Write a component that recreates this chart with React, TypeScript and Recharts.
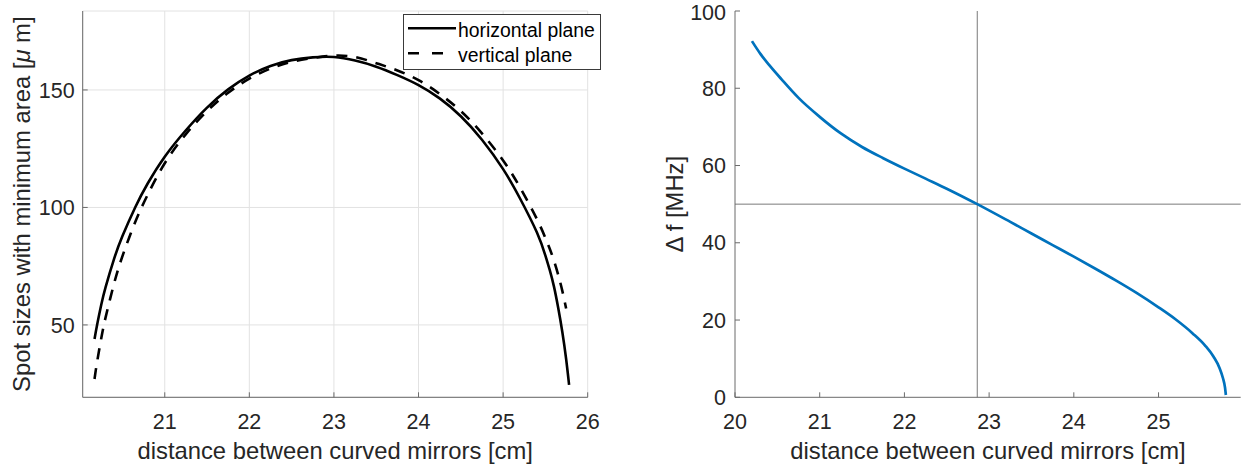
import { CartesianGrid, Legend, Line, LineChart, ReferenceLine, XAxis, YAxis } from 'recharts'

const FONT = '"Liberation Sans", Arial, Helvetica, sans-serif'
const AXIS = '#6b6b6b'
const TEXT = '#262626'

// left panel: spot size vs mirror distance
const spotX = [
  20.17, 20.2, 20.25, 20.3, 20.4, 20.5, 20.65, 20.8, 21.0, 21.25, 21.5, 21.75, 22.0, 22.25, 22.5, 22.75, 23.0,
  23.25, 23.5, 23.75, 24.0, 24.25, 24.5, 24.75, 25.0, 25.2, 25.4, 25.5, 25.55, 25.6, 25.65, 25.7, 25.745, 25.78,
]
const horizontalPlane = [
  44, 50, 58.7, 66, 78, 87.8, 100, 110.3, 121.6, 132.85, 142.5, 150.25, 156.1, 160.2, 162.7, 163.85, 164, 162.5,
  159.9, 156.3, 152.05, 146.4, 138.8, 128.8, 116.3, 103.8, 89.3, 79.5, 73.5, 66.5, 57.5, 47, 35.5, 24.5,
]
const verticalPlane = [
  27, 34.2, 44.4, 53.1, 67.5, 79.3, 93.7, 105.55, 118.8, 131.2, 141, 148.8, 154.8, 159.1, 162, 163.6, 164.6, 164,
  161.4, 158.3, 154.2, 148.3, 141, 131.5, 120, 108.5, 95, 87, 82.5, 77.5, 71.5, 64.5, 57, null,
]
const spotTicksX = [21, 22, 23, 24, 25, 26]
const spotTicksY = [50, 100, 150]

// right panel: frequency shift vs mirror distance
const shiftX = [
  20.2, 20.3, 20.4, 20.55, 20.75, 21.0, 21.25, 21.5, 21.75, 22.0, 22.25, 22.5, 22.86, 23.25, 23.5, 23.75, 24.0,
  24.25, 24.5, 24.75, 25.0, 25.2, 25.4, 25.55, 25.65, 25.72, 25.76, 25.785, 25.795,
]
const deltaF = [
  92.2, 88.9, 86.1, 82.3, 77.5, 72.6, 68.3, 64.8, 61.9, 59.2, 56.6, 54.0, 50.0, 45.4, 42.4, 39.4, 36.4, 33.35,
  30.2, 26.9, 23.3, 20.2, 16.6, 13.4, 10.5, 7.6, 5.0, 2.5, 0.6,
]
const shiftTicksX = [20, 21, 22, 23, 24, 25]
const shiftTicksY = [0, 20, 40, 60, 80, 100]
const crossX = 22.86
const crossY = 50

const spotSeries = [
  { key: 'h', name: 'horizontal plane', dash: undefined as string | undefined, legendDash: undefined as string | undefined },
  { key: 'v', name: 'vertical plane', dash: '11 9', legendDash: '11 13' },
]

const spotData = spotX.map((x, i) => ({ x, h: horizontalPlane[i], v: verticalPlane[i] }))
const shiftData = shiftX.map((x, i) => ({ x, df: deltaF[i] }))

const tickStyle = { fill: TEXT, fontSize: 21.5, fontFamily: FONT }
const axisBits = {
  axisLine: { stroke: AXIS },
  tickLine: { stroke: AXIS },
  tickSize: -5,
}
const blank = () => ''

function SpotLegend({ payload }: { payload?: { value?: string }[] }) {
  const rows = payload && payload.length ? payload : spotSeries.map((s) => ({ value: s.name }))
  return (
    <svg width={198} height={56} style={{ display: 'block' }}>
      <rect x={0.5} y={0.5} width={197} height={55} fill="#fff" stroke="#3a3a3a" strokeWidth={1} />
      {rows.map((r, i) => (
        <g key={i}>
          <line
            x1={5}
            x2={53}
            y1={14.3 + 25 * i}
            y2={14.3 + 25 * i}
            stroke="#000"
            strokeWidth={2.6}
            strokeDasharray={spotSeries[i]?.legendDash}
          />
          <text x={55} y={22.7 + 25 * i} fontSize={19.4} fontFamily={FONT} fill="#000">
            {r.value}
          </text>
        </g>
      ))}
    </svg>
  )
}

export default function App() {
  return (
    <div style={{ position: 'absolute', left: 0, top: 0, width: 1244, height: 465, background: '#fff' }}>
      <div style={{ position: 'absolute', left: 0, top: 0 }}>
        <LineChart width={620} height={465} data={spotData} margin={{ top: 11, right: 32.3, left: 0, bottom: 27.7 }}>
          <CartesianGrid stroke="#e2e2e2" strokeWidth={1} />
          <XAxis
            dataKey="x"
            type="number"
            domain={[20.03, 26]}
            allowDataOverflow
            ticks={spotTicksX}
            height={40}
            tick={tickStyle}
            tickMargin={21}
            {...axisBits}
          />
          <XAxis
            xAxisId="top"
            orientation="top"
            type="number"
            domain={[20.03, 26]}
            allowDataOverflow
            ticks={spotTicksX}
            height={0}
            tickFormatter={blank}
            {...axisBits}
          />
          <YAxis
            type="number"
            domain={[19.2, 183.6]}
            allowDataOverflow
            ticks={spotTicksY}
            width={82.7}
            tick={tickStyle}
            tickMargin={13}
            {...axisBits}
          />
          <YAxis
            yAxisId="right"
            orientation="right"
            type="number"
            domain={[19.2, 183.6]}
            allowDataOverflow
            ticks={spotTicksY}
            width={0}
            tickFormatter={blank}
            {...axisBits}
          />
          {spotSeries.map((s) => (
            <Line
              key={s.key}
              dataKey={s.key}
              name={s.name}
              type="natural"
              stroke="#000"
              strokeWidth={2.6}
              strokeDasharray={s.dash}
              dot={false}
              activeDot={false}
              isAnimationActive={false}
            />
          ))}
          <Legend
            layout="vertical"
            align="center"
            verticalAlign="middle"
            content={(p: any) => <SpotLegend payload={p.payload} />}
            wrapperStyle={{ left: 403.3, top: 14, width: 198, height: 56 }}
          />
        </LineChart>
      </div>

      <div style={{ position: 'absolute', left: 620, top: 0 }}>
        <LineChart width={624} height={465} data={shiftData} margin={{ top: 11, right: 3.3, left: 0, bottom: 27.7 }}>
          <XAxis
            dataKey="x"
            type="number"
            domain={[20, 25.97]}
            allowDataOverflow
            ticks={shiftTicksX}
            height={40}
            tick={tickStyle}
            tickMargin={21}
            {...axisBits}
          />
          <XAxis
            xAxisId="top"
            orientation="top"
            type="number"
            domain={[20, 25.97]}
            allowDataOverflow
            ticks={shiftTicksX}
            height={0}
            tickFormatter={blank}
            {...axisBits}
          />
          <YAxis
            type="number"
            domain={[0, 100]}
            allowDataOverflow
            ticks={shiftTicksY}
            width={115}
            tick={tickStyle}
            tickMargin={14}
            {...axisBits}
          />
          <YAxis
            yAxisId="right"
            orientation="right"
            type="number"
            domain={[0, 100]}
            allowDataOverflow
            ticks={shiftTicksY}
            width={0}
            tickFormatter={blank}
            {...axisBits}
          />
          <ReferenceLine x={crossX} stroke="#7a7a7a" strokeWidth={1} />
          <ReferenceLine y={crossY} stroke="#7a7a7a" strokeWidth={1} />
          <Line
            dataKey="df"
            type="monotone"
            stroke="#0072BD"
            strokeWidth={2.7}
            dot={false}
            activeDot={false}
            isAnimationActive={false}
          />
        </LineChart>
      </div>

      {/* axis titles */}
      <svg
        width={1244}
        height={465}
        style={{ position: 'absolute', left: 0, top: 0, pointerEvents: 'none' }}
        fontFamily={FONT}
        fill={TEXT}
        fontSize={23.8}
      >
        <text x={335.2} y={459} textAnchor="middle">
          distance between curved mirrors [cm]
        </text>
        <text x={988} y={459} textAnchor="middle">
          distance between curved mirrors [cm]
        </text>
        <text transform="translate(30 204.2) rotate(-90)" textAnchor="middle">
          Spot sizes with minimum area [<tspan fontStyle="italic">μ</tspan> m]
        </text>
        <text transform="translate(683 204.2) rotate(-90)" textAnchor="middle">
          Δ f [MHz]
        </text>
      </svg>
    </div>
  )
}
